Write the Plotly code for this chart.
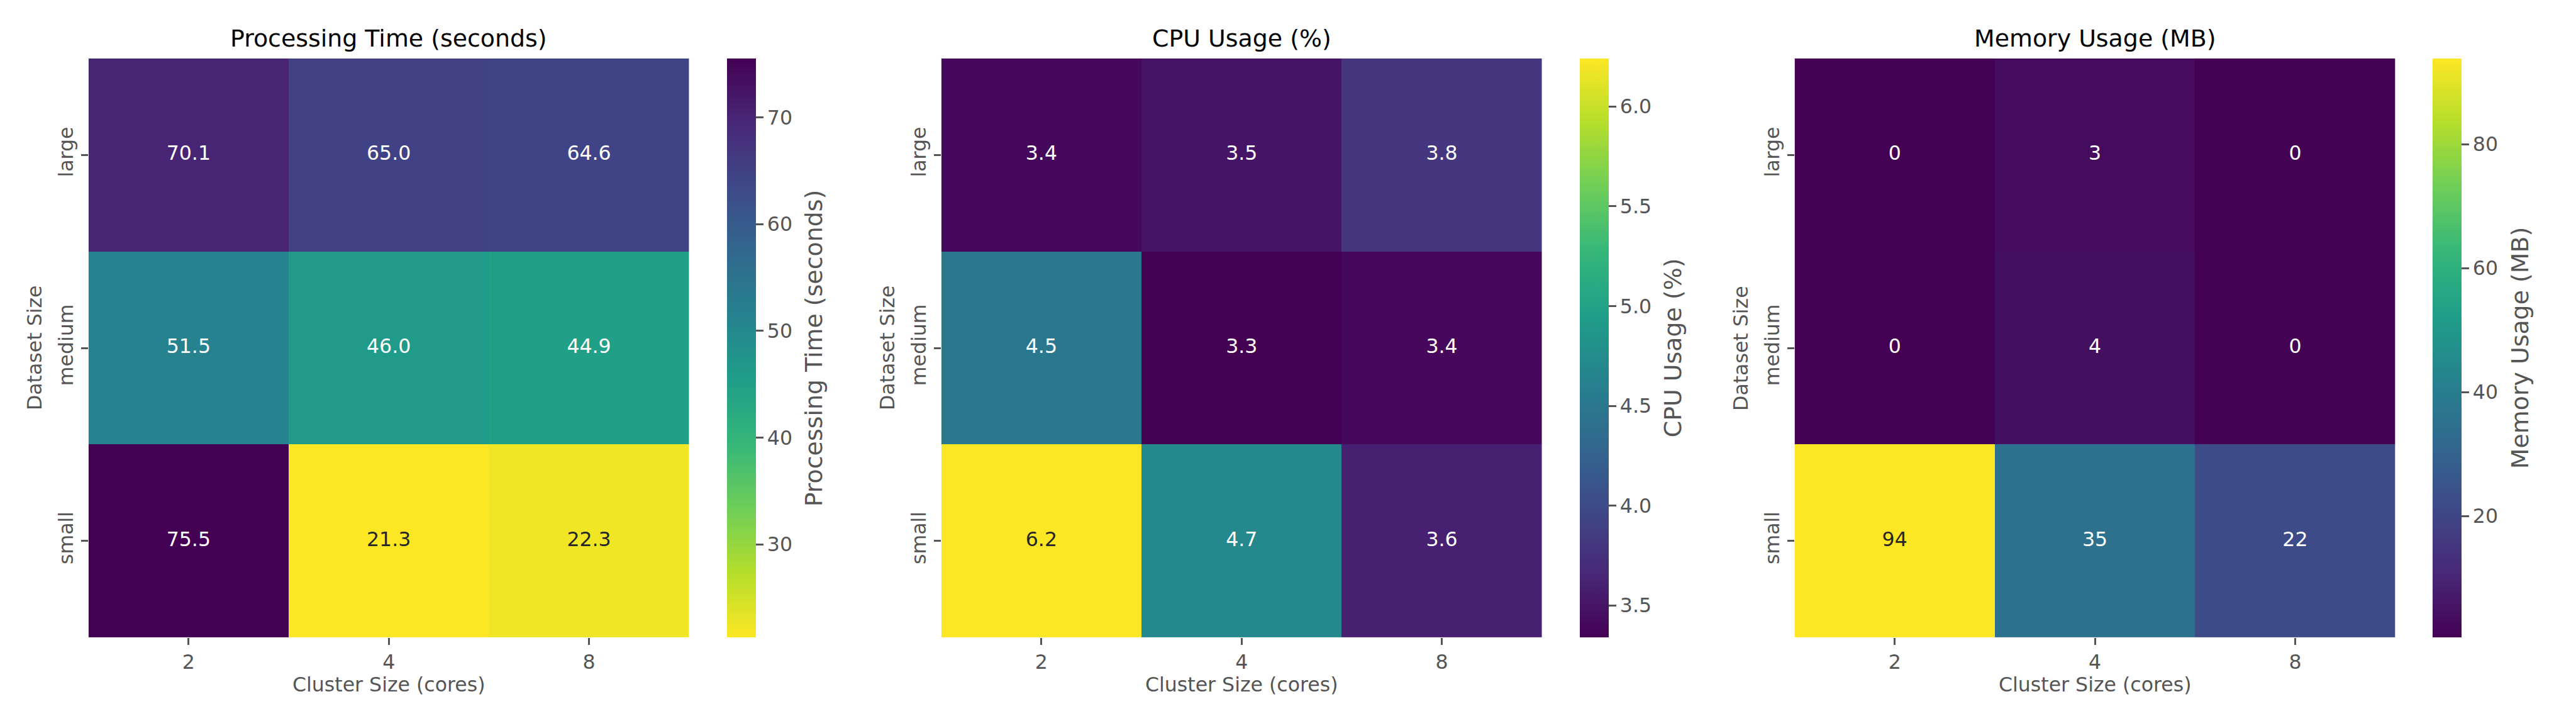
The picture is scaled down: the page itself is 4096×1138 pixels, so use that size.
import plotly.graph_objects as go
from plotly.colors import sample_colorscale, unlabel_rgb

# ---------------- data ----------------
cluster_sizes = ["2", "4", "8"]
dataset_sizes = ["large", "medium", "small"]

processing_time = [
    [70.1, 65.0, 64.6],
    [51.5, 46.0, 44.9],
    [75.5, 21.3, 22.3],
]
cpu_usage = [
    [3.4, 3.5, 3.8],
    [4.5, 3.34, 3.4],
    [6.24, 4.7, 3.6],
]
memory_usage = [
    [0.4, 3, 0.4],
    [0.4, 4, 0.4],
    [93.8, 35, 22],
]

panel_titles = ["Processing Time (seconds)", "CPU Usage (%)", "Memory Usage (MB)"]
colorbar_titles = ["Processing Time (seconds)", "CPU Usage (%)", "Memory Usage (MB)"]
colorbar_ticks = [[30, 40, 50, 60, 70], [3.5, 4.0, 4.5, 5.0, 5.5, 6.0], [20, 40, 60, 80]]
colorbar_ticktext = [["30", "40", "50", "60", "70"],
                     ["3.5", "4.0", "4.5", "5.0", "5.5", "6.0"],
                     ["20", "40", "60", "80"]]
value_formats = ["{:.1f}", "{:.1f}", "{:.0f}"]
reversed_scale = [True, False, False]
x_title = "Cluster Size (cores)"
y_title = "Dataset Size"

# ---------------- layout geometry (px in 4096x1138) ----------------
W, H = 4096, 1138
S = 0.758
heat_left = [175 * S, 1964 * S, 3754 * S]
heat_w = 1260 * S
cb_left = [1514 * S, 3303 * S, 5093 * S]
cb_thick = 61 * S
cb_label_x = [1697 * S, 3499 * S, 5276 * S]
top_px, bot_px = 112 * S, 1326 * S

def fx(p):
    return p / W

def fy(p):
    return 1 - p / H

FONT = "DejaVu Sans"
GREY = "#555555"
TICK_FS = 10 * 300 / 72 * S      # ~31.6
TITLE_FS = 12 * 300 / 72 * S     # ~37.9


def rel_lum(rgb):
    out = []
    for c in rgb:
        c = c / 255.0
        out.append(c / 12.92 if c <= 0.03928 else ((c + 0.055) / 1.055) ** 2.4)
    return 0.2126 * out[0] + 0.7152 * out[1] + 0.0722 * out[2]


fig = go.Figure()
datasets = [processing_time, cpu_usage, memory_usage]

annotations = []
for i, z in enumerate(datasets):
    xa = "x" if i == 0 else f"x{i+1}"
    ya = "y" if i == 0 else f"y{i+1}"
    flat = [v for row in z for v in row]
    zmin, zmax = min(flat), max(flat)
    cs = "Viridis_r" if reversed_scale[i] else "Viridis"

    fig.add_trace(go.Heatmap(
        z=z, x=cluster_sizes, y=dataset_sizes,
        colorscale=cs, zmin=zmin, zmax=zmax,
        xaxis=xa, yaxis=ya, hoverinfo="skip",
        colorbar=dict(
            x=fx(cb_left[i]), xanchor="left", xref="paper",
            y=fy(bot_px), yanchor="bottom", yref="paper",
            len=(bot_px - top_px) / H, lenmode="fraction",
            thickness=cb_thick, thicknessmode="pixels",
            outlinewidth=0,
            ticks="outside", ticklen=12, tickwidth=2.5, tickcolor=GREY,
            tickvals=colorbar_ticks[i], ticktext=colorbar_ticktext[i],
            tickfont=dict(family=FONT, size=TICK_FS, color=GREY),
            xpad=0, ypad=0,
        ),
    ))

    # cell value labels
    tx, ty, tt, tc = [], [], [], []
    for r, row in enumerate(z):
        for c, v in enumerate(row):
            t = (v - zmin) / (zmax - zmin)
            col = sample_colorscale(cs, [t])[0]
            rgb = unlabel_rgb(col)
            lum = rel_lum(rgb)
            tx.append(cluster_sizes[c])
            ty.append(dataset_sizes[r])
            tt.append(value_formats[i].format(v))
            tc.append("#262626" if lum > 0.408 else "#ffffff")
    fig.add_trace(go.Scatter(
        x=tx, y=ty, text=tt, mode="text",
        textfont=dict(family=FONT, size=TICK_FS, color=tc),
        xaxis=xa, yaxis=ya, hoverinfo="skip", showlegend=False,
    ))

    left = heat_left[i]
    xd = [fx(left), fx(left + heat_w)]
    axis_common = dict(
        showgrid=False, zeroline=False, showline=False,
        ticks="outside", ticklen=11, tickwidth=2.5, tickcolor=GREY,
        tickfont=dict(family=FONT, size=TICK_FS, color=GREY),
        type="category", automargin=False,
    )
    fig.update_layout({
        ("xaxis" if i == 0 else f"xaxis{i+1}"): dict(
            domain=xd, anchor=ya, range=[-0.5, 2.5],
            categoryorder="array", categoryarray=cluster_sizes,
            **axis_common),
        ("yaxis" if i == 0 else f"yaxis{i+1}"): dict(
            domain=[fy(bot_px), fy(top_px)], anchor=xa, range=[2.5, -0.5],
            categoryorder="array", categoryarray=dataset_sizes,
            tickangle=-90,
            **axis_common),
    })

    cx = fx(left + heat_w / 2)
    # panel title
    annotations.append(dict(
        text=panel_titles[i], x=cx, y=fy(52.5), xref="paper", yref="paper",
        xanchor="center", yanchor="middle", showarrow=False,
        font=dict(family=FONT, size=TITLE_FS, color="#000000")))
    # x axis title
    annotations.append(dict(
        text=x_title, x=cx, y=fy(1080), xref="paper", yref="paper",
        xanchor="center", yanchor="middle", showarrow=False,
        font=dict(family=FONT, size=TICK_FS, color=GREY)))
    # y axis title
    annotations.append(dict(
        text=y_title, x=fx(left - 85.6), y=fy((top_px + bot_px) / 2),
        xref="paper", yref="paper", xanchor="center", yanchor="middle",
        textangle=-90, showarrow=False,
        font=dict(family=FONT, size=TICK_FS, color=GREY)))
    # colorbar label
    annotations.append(dict(
        text=colorbar_titles[i], x=fx(cb_label_x[i]), y=fy((top_px + bot_px) / 2),
        xref="paper", yref="paper", xanchor="center", yanchor="middle",
        textangle=-90, showarrow=False,
        font=dict(family=FONT, size=TITLE_FS, color=GREY)))

fig.update_layout(
    width=W, height=H,
    margin=dict(l=0, r=0, t=0, b=0, pad=0),
    paper_bgcolor="white", plot_bgcolor="white",
    font=dict(family=FONT, color=GREY),
    showlegend=False,
    annotations=annotations,
)

fig.write_html("out.html")
